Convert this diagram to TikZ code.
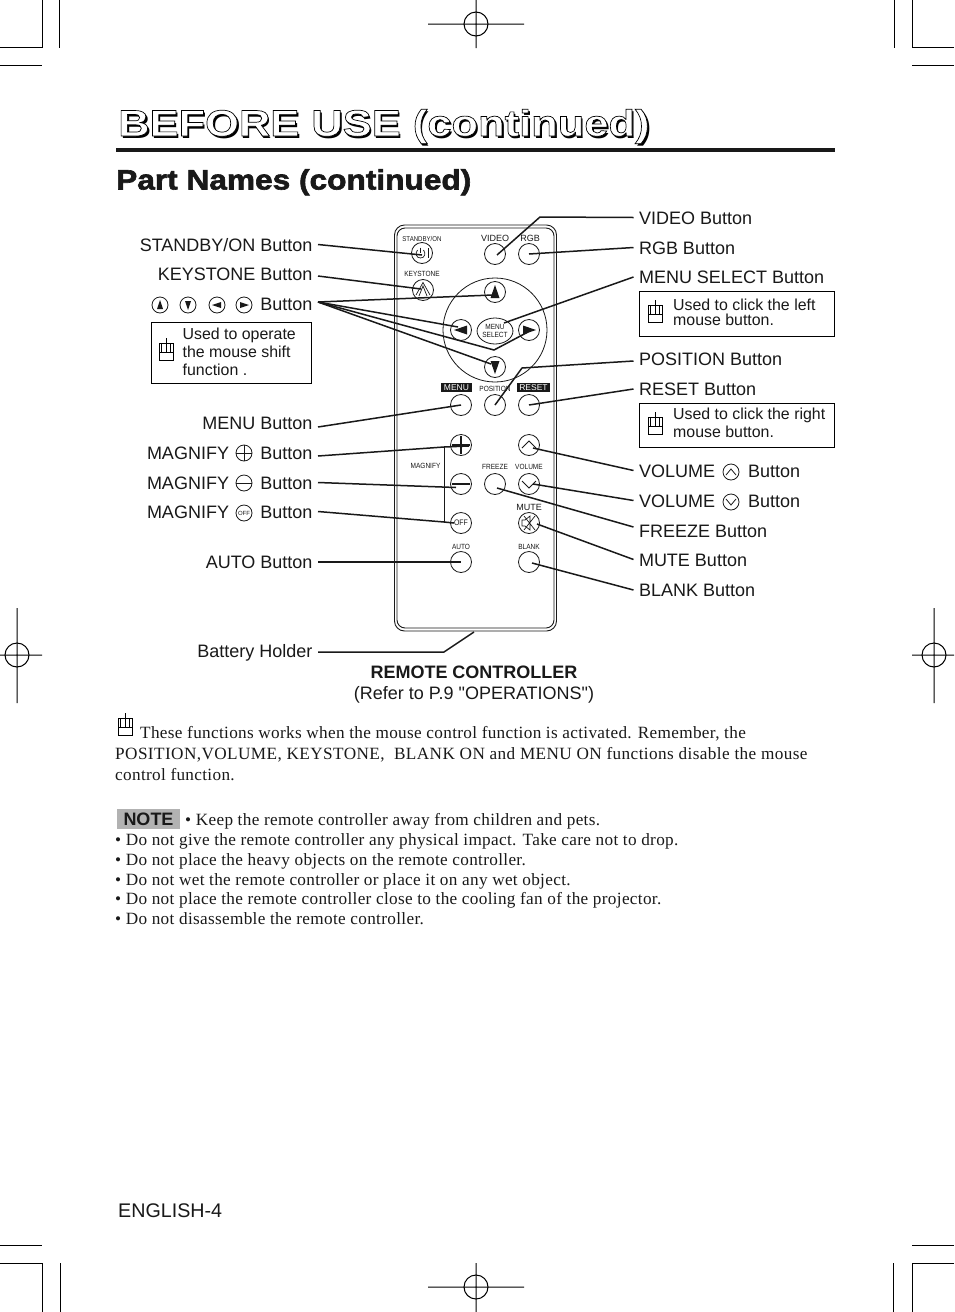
\documentclass[tikz,border=0pt]{standalone}
\usepackage{fontspec}
\setmainfont[LetterSpace=1.9]{Liberation Serif}
\setsansfont{Liberation Sans}
\newfontfamily\headfont[FakeStretch=1.13,FakeBold=2.2]{Liberation Sans Bold}
\newfontfamily\titlefont[FakeStretch=1.175]{Liberation Sans Bold}
\newfontfamily\capfont{Liberation Sans}
\newfontfamily\narrowfont[FakeStretch=0.87]{Liberation Sans}
\usetikzlibrary{calc,shapes.geometric}
\definecolor{ink}{gray}{0.1}
\tikzset{
 crop/.style={line width=1pt,black},
 lbl/.style={font=\sffamily\fontsize{18}{20}\selectfont,text=ink,inner sep=0pt,outer xsep=5.5pt,outer ysep=0pt,text height=13pt,text depth=0pt},
 lblL/.style={lbl,anchor=base east},
 lblR/.style={lbl,anchor=base west},
 box/.style={draw=black,line width=0.8pt,fill=white},
 boxtxt/.style={font=\sffamily\fontsize{15.9}{18}\selectfont,text=ink,align=left,anchor=west,inner sep=0pt},
 btn/.style={circle,draw=ink,line width=0.8pt,minimum size=21pt,inner sep=0pt},
 ico/.style={circle,draw=ink,line width=0.8pt,minimum size=16pt,inner sep=0pt},
 tiny/.style={font=\narrowfont\fontsize{7.5}{8}\selectfont,text=ink,inner sep=0pt},
 rev/.style={font=\sffamily\fontsize{8.5}{9}\selectfont,text=white,fill=ink,inner sep=0pt,minimum width=#1,minimum height=9pt},
 conn/.style={line width=1.5pt,ink,line join=miter},
 body/.style={font=\rmfamily\fontsize{17.2}{20}\selectfont,text=ink,anchor=base west,inner sep=0pt},
 note/.style={font=\rmfamily\fontsize{17.2}{20}\selectfont,text=ink,anchor=base west,inner sep=0pt},
 mouse/.pic={
  \draw[line width=0.8pt,black] (-7,0) rectangle (7,17);
  \draw[line width=0.8pt,black] (0,-5) -- (0,9) (-7,9) -- (7,9) (-4.5,0) -- (-4.5,9) (4.5,0) -- (4.5,9);
 }
}
\begin{document}
\begin{tikzpicture}[x=1pt,y=-1pt]
\useasboundingbox (0,0) rectangle (954,1312);
\fill[white] (0,0) rectangle (954,1312);
% crop marks
\draw[crop] (0,47) -- (42,47) -- (42,0) (59.5,0) -- (59.5,48) (0,65) -- (42,65);
\draw[crop] (954,47) -- (912,47) -- (912,0) (894,0) -- (894,48) (954,65) -- (912,65);
\draw[crop] (0,1245) -- (42,1245) (0,1263) -- (42,1263) -- (42,1312) (60,1263) -- (60,1312);
\draw[crop] (954,1245) -- (912,1245) (954,1263) -- (912,1263) -- (912,1312) (893,1263) -- (893,1312);
\draw[crop] (476,24) circle (12) (428,24) -- (524,24) (476,0) -- (476,48);
\draw[crop] (476,1287) circle (12) (428,1287) -- (524,1287) (476,1263) -- (476,1312);
\draw[crop] (17,655) circle (12) (0,655) -- (42,655) (17,608) -- (17,703);
\draw[crop] (934,655) circle (12) (912,655) -- (954,655) (934,608) -- (934,703);
% headings
\node[inner sep=0pt,anchor=base west,text=black,font=\titlefont\fontsize{37}{40}\selectfont] (titleShadow) at (120,138.5) {BEFORE USE (continued)};
\node[inner sep=0pt,anchor=base west,font=\titlefont\fontsize{37}{40}\selectfont] (title) at (118,136) {\special{pdf:code q 2 Tr 0.7 w 1 1 1 rg 0 0 0 RG}BEFORE USE (continued)\special{pdf:code Q}};
\fill[ink] (116,148.2) rectangle (835,151.8);
\node[inner sep=0pt,anchor=base west,text=ink,font=\headfont\fontsize{28}{30}\selectfont] (part) at (116,189.5) {Part Names (continued)};
% remote body
\draw[ink,line width=0.9pt,rounded corners=10pt] (394.5,225) rectangle (556.5,631);
\draw[ink,line width=0.9pt,rounded corners=8pt] (397,228) rectangle (554,628);
% big circle
\node[circle,draw=ink,line width=0.8pt,minimum size=104pt,inner sep=0pt] (ring) at (495,330) {};
% buttons
\node[btn] (bStandby) at (422,253) {};
\node[btn] (bVideo) at (495,254) {};
\node[btn] (bRgb) at (529,254) {};
\node[btn] (bKey) at (423,290) {};
\node[btn] (bUp) at (495,292) {};
\node[btn] (bLeft) at (461,330) {};
\node[btn] (bRight) at (529,330) {};
\node[btn] (bDown) at (495,367) {};
\node[draw=ink,line width=0.8pt,ellipse,minimum width=34pt,minimum height=26pt,inner sep=0pt,font=\narrowfont\fontsize{7.5}{7.5}\selectfont,align=center,text=ink] (bMenuSel) at (495,331) {MENU\\SELECT};
\node[btn] (bMenu) at (461,405) {};
\node[btn] (bPos) at (495,405) {};
\node[btn] (bReset) at (529,405) {};
\node[btn] (bPlus) at (461,445) {};
\node[btn] (bMinus) at (461,484) {};
\node[btn,font=\narrowfont\fontsize{8}{8}\selectfont,text=ink] (bOff) at (461,523) {OFF};
\node[btn] (bAuto) at (461,562) {};
\node[btn] (bVolUp) at (529,445) {};
\node[btn] (bVolDn) at (529,484) {};
\node[btn] (bFreeze) at (495,484) {};
\node[btn] (bMute) at (529,523) {};
\node[btn] (bBlank) at (529,562) {};
% button glyphs
\fill[ink] (495,285) -- (499.5,298) -- (490.5,298) -- cycle;
\fill[ink] (495,374) -- (499.5,361) -- (490.5,361) -- cycle;
\fill[ink] (454,330) -- (467,325.5) -- (467,334.5) -- cycle;
\fill[ink] (536,330) -- (523,325.5) -- (523,334.5) -- cycle;
\draw[ink,line width=0.7pt] (417.5,250) .. controls (415,253) and (416,258) .. (420.5,258) .. controls (425,258) and (426,253) .. (423.5,250);
\draw[ink,line width=0.7pt] (420.5,247.5) -- (420.5,253) (428,248) -- (428,258);
\draw[ink,line width=0.7pt] (416,295) -- (423,282.5) -- (430,295) (419,296) -- (423,286) -- (427,296);
\draw[ink,line width=1.4pt] (452,445) -- (470,445) (461,436) -- (461,454);
\draw[ink,line width=1.6pt] (452,484) -- (470,484);
\draw[ink,line width=0.8pt] (522,448) -- (529,441) -- (536,448);
\draw[ink,line width=0.8pt] (522,481) -- (529,488) -- (536,481);
\draw[ink,line width=0.7pt] (522,520) -- (525,520) -- (530,516) -- (530,530) -- (525,526) -- (522,526) -- cycle (524,516) -- (535,530) (535,516) -- (524,530);
% remote labels
\node[tiny,font=\narrowfont\fontsize{7}{8}\selectfont] (tStandby) at (422,238.5) {STANDBY/ON};
\node[tiny,font=\sffamily\fontsize{9}{9}\selectfont] (tVideo) at (495,238) {VIDEO};
\node[tiny,font=\sffamily\fontsize{9}{9}\selectfont] (tRgb) at (530,238) {RGB};
\node[tiny] (tKey) at (422,274) {KEYSTONE};
\node[rev=31pt] (tMenu) at (456.5,387.5) {MENU};
\node[rev=33pt] (tReset) at (533.5,387.5) {RESET};
\node[tiny] (tPos) at (495,389) {POSITION};
\node[tiny] (tMag) at (425.5,465.5) {MAGNIFY};
\node[tiny] (tFreeze) at (495,467) {FREEZE};
\node[tiny] (tVol) at (529,467) {VOLUME};
\node[tiny,font=\sffamily\fontsize{9}{9}\selectfont] (tMute) at (529,507) {MUTE};
\node[tiny] (tAuto) at (461,546.5) {AUTO};
\node[tiny] (tBlank) at (529,546.5) {BLANK};
% left labels
\node[lblL] (lStandby) at (318,251) {STANDBY/ON Button};
\node[lblL] (lKey) at (318,280) {KEYSTONE Button};
\node[lblL] (lArrow) at (318,310) {Button};
\node[lblL] (lMenu) at (318,429) {MENU Button};
\node[lblL] (lPlus) at (318,459) {Button};
\node[lblL] (lMinus) at (318,489) {Button};
\node[lblL] (lOff) at (318,518) {Button};
\node[lbl,anchor=base west] (lMag1) at (141.5,459) {MAGNIFY};
\node[lbl,anchor=base west] (lMag2) at (141.5,489) {MAGNIFY};
\node[lbl,anchor=base west] (lMag3) at (141.5,518) {MAGNIFY};
\node[lblL] (lAuto) at (318,568) {AUTO Button};
\node[lblL] (lBatt) at (318,657) {Battery Holder};
% small icons
\node[ico] (iUp) at (160,305) {};
\node[ico] (iDown) at (188,305) {};
\node[ico] (iLeft) at (217,305) {};
\node[ico] (iRight) at (244,305) {};
\fill[ink] (160,300) -- (163,309) -- (157,309) -- cycle;
\fill[ink] (188,310) -- (191,301) -- (185,301) -- cycle;
\fill[ink] (212,305) -- (221,302) -- (221,308) -- cycle;
\fill[ink] (249,305) -- (240,302) -- (240,308) -- cycle;
\node[ico] (iPlus) at (244,453) {};
\node[ico] (iMinus) at (244,483) {};
\node[ico,font=\sffamily\fontsize{6}{6}\selectfont,text=ink] (iOff) at (244,513) {OFF};
\draw[ink,line width=0.8pt] (236,453) -- (252,453) (244,445) -- (244,461) (236,483) -- (252,483);
\node[ico] (iVolUp) at (731,472) {};
\node[ico] (iVolDn) at (731,502) {};
\draw[ink,line width=0.8pt] (726,475) -- (731,469) -- (736,475) (726,499) -- (731,505) -- (736,499);
% note boxes
\draw[box] (151.5,322.5) rectangle (311.5,383.5);
\node[boxtxt] (n1) at (182.5,351.5) {Used to operate\\the mouse shift\\function .};
\pic at (166,343) {mouse};
\draw[box] (639.5,291.5) rectangle (834.5,336.5);
\node[boxtxt] (n2) at (673,312.5) {Used to click the left\\[-3pt]mouse button.};
\pic at (655,305) {mouse};
\draw[box] (639.5,403.5) rectangle (834.5,447.5);
\node[boxtxt] (n3) at (673,422.5) {Used to click the right\\mouse button.};
\pic at (655,417) {mouse};
% right labels
\node[lblR] (rVideo) at (633.5,224) {VIDEO Button};
\node[lblR] (rRgb) at (633.5,254) {RGB Button};
\node[lblR] (rMenuSel) at (633.5,283) {MENU SELECT Button};
\node[lblR] (rPos) at (633.5,365) {POSITION Button};
\node[lblR] (rReset) at (633.5,395) {RESET Button};
\node[lblR] (rVolUp) at (633.5,477) {VOLUME};
\node[lbl,anchor=base west] (rVolUpB) at (742.5,477) {Button};
\node[lblR] (rVolDn) at (633.5,507) {VOLUME};
\node[lbl,anchor=base west] (rVolDnB) at (742.5,507) {Button};
\node[lblR] (rFreeze) at (633.5,537) {FREEZE Button};
\node[lblR] (rMute) at (633.5,566) {MUTE Button};
\node[lblR] (rBlank) at (633.5,596) {BLANK Button};
% connectors left
\draw[conn] (lStandby.east) -- ([shift={(0,2)}]bStandby.center);
\draw[conn] ([shift={(0,2.5)}]lKey.east) -- ([shift={(-2,-1)}]bKey.center);
\draw[conn] ([shift={(0,-1.5)}]lArrow.east) -- ([shift={(-2,3)}]bUp.center);
\draw[conn] ([shift={(0,-1.5)}]lArrow.east) -- ([shift={(-3,-3)}]bLeft.center);
\draw[conn] ([shift={(0,-1.5)}]lArrow.east) -- ([shift={(-1,19)}]bMenuSel.center) -- ([shift={(-1,2)}]bRight.center);
\draw[conn] ([shift={(0,-1.5)}]lArrow.east) -- ([shift={(-4,-3)}]bDown.center);
\draw[conn] ([shift={(0,4.5)}]lMenu.east) -- (bMenu.center);
\draw[conn] ([shift={(0,3.5)}]lPlus.east) -- ([shift={(-17,2)}]bPlus.center) -- ([shift={(8,1)}]bPlus.center);
\draw[conn] (lMinus.east) -- ([shift={(-5,3.5)}]bMinus.center);
\draw[conn] (lOff.east) -- ([shift={(-17,-1)}]bOff.center) -- ([shift={(-7,0)}]bOff.center);
\draw[ink,line width=1pt] ([shift={(-17,1)}]bPlus.center) -- ([shift={(-17,0)}]bOff.center);
\draw[conn] ([shift={(0,.5)}]lAuto.east) -- (bAuto.center);
\draw[conn] ([shift={(0,1.5)}]lBatt.east) -- ($(ring.center)+(-51,322)$) -- ($(ring.center)+(-21,302)$);
% connectors right
\draw[conn] (rVideo.west) -- ($(bVideo.center)+(45,-37)$) -- ([shift={(2,1)}]bVideo.center);
\draw[conn] (rRgb.west) -- (bRgb.center);
\draw[conn] ([shift={(0,0.5)}]rMenuSel.west) -- ([shift={(9,-8)}]bMenuSel.center);
\draw[conn] ([shift={(0,2.5)}]rPos.west) -- ([shift={(27,-37)}]bPos.center) -- (bPos.center);
\draw[conn] ([shift={(0,0.5)}]rReset.west) -- (bReset.center);
\draw[conn] (rVolUp.west) -- ([shift={(4,3)}]bVolUp.center);
\draw[conn] (rVolDn.west) -- ([shift={(4,0)}]bVolDn.center);
\draw[conn] ([shift={(0,-3.5)}]rFreeze.west) -- ([shift={(2,4)}]bFreeze.center);
\draw[conn] (rMute.west) -- ([shift={(8,1)}]bMute.center);
\draw[conn] ([shift={(0,0.5)}]rBlank.west) -- ([shift={(3,1)}]bBlank.center);
% caption
\node[font=\sffamily\bfseries\fontsize{18}{20}\selectfont,text=ink,inner sep=0pt] (cap1) at (474,672) {REMOTE CONTROLLER};
\node[font=\capfont\fontsize{18}{20}\selectfont,text=ink,inner sep=0pt] (cap2) at (474,694.5) {(Refer to P.9 "OPERATIONS")};
% paragraph
\pic at (125,718) {mouse};
\node[body] (p1) at (140,738) {These functions works when the mouse control function is activated. Remember, the};
\node[body] (p2) at (115,759) {\addfontfeature{LetterSpace=2.4}POSITION,VOLUME, KEYSTONE,\ \ BLANK ON and MENU ON functions disable the mouse};
\node[body] (p3) at (115,780) {control function.};
% note
\node[fill=black!30,inner sep=0pt,minimum width=63pt,minimum height=20pt,font=\sffamily\bfseries\fontsize{18}{20}\selectfont,text=ink] (noteTag) at (148.5,819) {NOTE};
\node[note] (q1) at (185,825) {• Keep the remote controller away from children and pets.};
\node[note] (q2) at (115,845) {• Do not give the remote controller any physical impact. Take care not to drop.};
\node[note] (q3) at (115,865) {• Do not place the heavy objects on the remote controller.};
\node[note] (q4) at (115,885) {• Do not wet the remote controller or place it on any wet object.};
\node[note] (q5) at (115,904) {• Do not place the remote controller close to the cooling fan of the projector.};
\node[note] (q6) at (115,924) {• Do not disassemble the remote controller.};
\node[inner sep=0pt,anchor=base west,font=\sffamily\fontsize{19.7}{22}\selectfont,text=ink] (page) at (118,1217) {ENGLISH-4};
\end{tikzpicture}
\end{document}
